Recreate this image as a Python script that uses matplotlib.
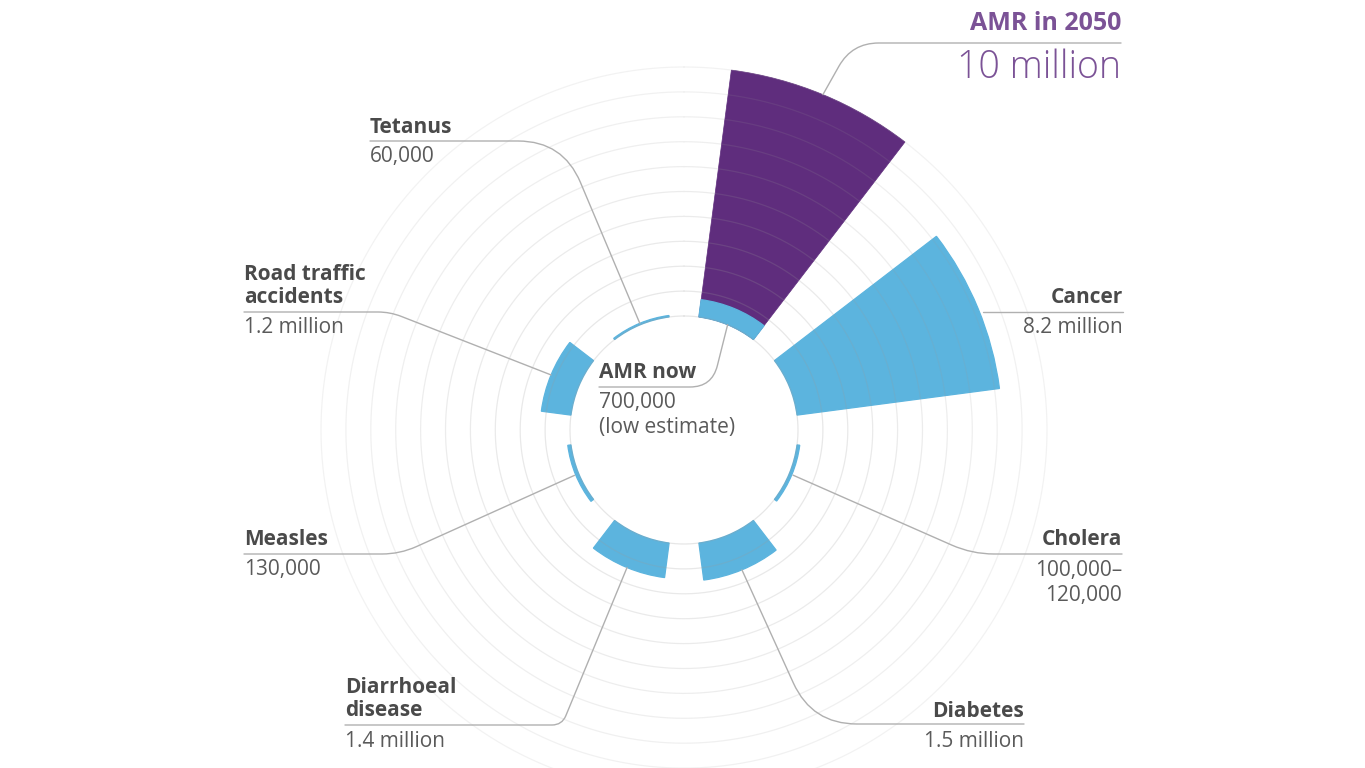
import numpy as np
import matplotlib
matplotlib.use("Agg")
import matplotlib.pyplot as plt
from matplotlib.path import Path
from matplotlib.patches import PathPatch

# ---------------- data ----------------
categories = ["AMR now", "Cancer", "Cholera", "Diabetes", "Diarrhoeal disease",
              "Measles", "Road traffic accidents", "Tetanus"]
deaths_millions = [0.7, 8.2, 0.11, 1.5, 1.4, 0.13, 1.2, 0.06]
amr_2050_millions = 10.0
title_lines = [["AMR now"], ["Cancer"], ["Cholera"], ["Diabetes"],
               ["Diarrhoeal", "disease"], ["Measles"], ["Road traffic", "accidents"], ["Tetanus"]]
value_lines = [["700,000", "(low estimate)"], ["8.2 million"], ["100,000\u2013", "120,000"],
               ["1.5 million"], ["1.4 million"], ["130,000"], ["1.2 million"], ["60,000"]]
amr_2050_title = "AMR in 2050"
amr_2050_value = "10 million"
ring_values = list(range(0, 11))   # gridlines every 1 million

# ---------------- style ----------------
BLUE = "#5cb4de"
PURPLE = "#5f2d7d"
PURPLE_TXT = "#7b5296"
TITLE_C = "#4a4a4a"
VALUE_C = "#5a5a5a"
LINE_C = "#b0b0b0"
FONT = ["Open Sans", "DejaVu Sans"]
plt.rcParams["font.family"] = FONT

W, H = 1365, 768
fig = plt.figure(figsize=(W / 100, H / 100), dpi=100)
fig.patch.set_facecolor("white")

px_per_unit = 24.9
inner = 114 / px_per_unit
Rmax = 16
cx, cy = 684, 430
size = 2 * Rmax * px_per_unit
ax = fig.add_axes([(cx - size / 2) / W, (H - cy - size / 2) / H, size / W, size / H],
                  projection="polar")
ax.set_theta_zero_location("N")
ax.set_theta_direction(-1)
ax.set_ylim(0, Rmax)
ax.axis("off")

n = len(categories)
theta = np.deg2rad(22.5 + 45 * np.arange(n))
width = np.deg2rad(30)

ax.bar(theta[0], amr_2050_millions, width=width, bottom=inner, color=PURPLE,
       edgecolor=PURPLE, linewidth=0.5, zorder=2)
ax.bar(theta, deaths_millions, width=width, bottom=inner, color=BLUE,
       edgecolor=BLUE, linewidth=0.9, zorder=3)

t = np.linspace(0, 2 * np.pi, 1000)
for k in ring_values:
    a = 0.24 - 0.012 * k
    ax.plot(t, np.full_like(t, inner + k), color="#9a9a9a", alpha=a, lw=0.9, zorder=4)

# ---------------- overlay for labels ----------------
ov = fig.add_axes([0, 0, 1, 1], zorder=5)
ov.set_xlim(0, W)
ov.set_ylim(H, 0)
ov.axis("off")
ov.patch.set_alpha(0)


def polar_px(th, r):
    x, y = ax.transData.transform((th, r))
    return (x, H - y)


def rounded(points, radius, color=LINE_C, lw=1.0):
    pts = [np.array(p, dtype=float) for p in points]
    verts = [pts[0]]
    codes = [Path.MOVETO]
    for i in range(1, len(pts) - 1):
        p0, p1, p2 = pts[i - 1], pts[i], pts[i + 1]
        d1 = (p0 - p1) / np.linalg.norm(p0 - p1)
        d2 = (p2 - p1) / np.linalg.norm(p2 - p1)
        r = min(radius, 0.45 * np.linalg.norm(p0 - p1), 0.45 * np.linalg.norm(p2 - p1))
        verts += [p1 + d1 * r, p1, p1 + d2 * r]
        codes += [Path.LINETO, Path.CURVE3, Path.CURVE3]
    verts.append(pts[-1])
    codes.append(Path.LINETO)
    ov.add_patch(PathPatch(Path(verts, codes), fill=False, edgecolor=color, lw=lw,
                           capstyle="round", joinstyle="round"))


FS = 15

layout = [
    dict(x=599, ha="left", tb=[378], uy=387, vb=[408, 433], ux=712, rad=22, rend=inner),
    dict(x=1123, ha="right", tb=[303], uy=312, vb=[333], ux=983, rad=0, rend=None),
    dict(x=1122, ha="right", tb=[545], uy=554, vb=[576, 601], ux=972, rad=22, rend=inner + 0.11 + 0.05),
    dict(x=1024, ha="right", tb=[717], uy=724, vb=[747], ux=812, rad=45, rend=inner + 1.5),
    dict(x=345, ha="left", tb=[693, 716], uy=725, vb=[747], ux=562, rad=10, rend=inner + 1.4),
    dict(x=244, ha="left", tb=[545], uy=554, vb=[575], ux=400, rad=18, rend=inner + 0.13 + 0.05),
    dict(x=244, ha="left", tb=[280, 303], uy=312, vb=[333], ux=390, rad=12, rend=inner + 1.2),
    dict(x=370, ha="left", tb=[133], uy=141, vb=[162], ux=563, rad=45, rend=inner + 0.06),
]

for i, L in enumerate(layout):
    for line, yb in zip(title_lines[i], L["tb"]):
        ov.text(L["x"], yb, line, ha=L["ha"], va="baseline", fontsize=FS,
                fontweight="bold", color=TITLE_C)
    for line, yb in zip(value_lines[i], L["vb"]):
        ov.text(L["x"], yb, line, ha=L["ha"], va="baseline", fontsize=FS,
                color=VALUE_C)
    if L["rend"] is None:
        rounded([(L["x"], L["uy"]), (L["ux"], L["uy"])], 0)
    else:
        end = polar_px(theta[i], L["rend"])
        rounded([(L["x"], L["uy"]), (L["ux"], L["uy"]), end], L["rad"])

# AMR 2050 label
ov.text(1121, 30, amr_2050_title, ha="right", va="baseline", fontsize=18,
        fontweight="bold", color=PURPLE_TXT)
ov.text(1121, 78, amr_2050_value, ha="right", va="baseline", fontsize=27,
        fontweight="light", color=PURPLE_TXT)
end2050 = polar_px(theta[0], inner + amr_2050_millions)
rounded([(1121, 43), (852, 43), end2050], 30)

fig.savefig("out.png", dpi=100, facecolor="white")
